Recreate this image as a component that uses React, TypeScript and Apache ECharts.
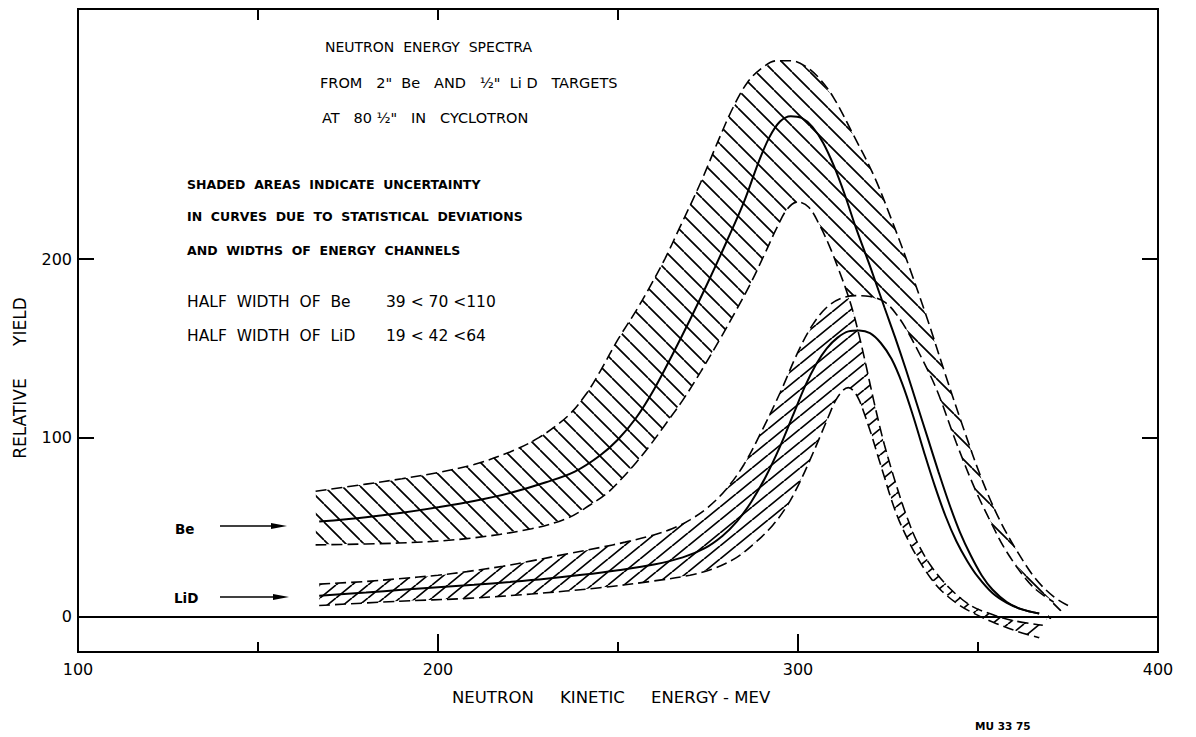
import React, { useEffect, useRef } from 'react';
import * as echarts from 'echarts';

// ---- data (energy in MeV, relative yield) ----
const xTickLabels = [100, 200, 300, 400];
const yTickLabels = [0, 100, 200];
const yTickMarks = [100, 200];
const topTickMarks = [150, 200, 250];

const beCenter: number[][] = [
  [167, 53], [180, 55.5], [190, 58], [200, 61], [210, 64.5], [220, 69], [230, 75], [238, 81],
  [245, 90], [250, 99], [255, 111], [260, 127], [265, 146], [270, 166], [275, 187], [280, 209],
  [285, 232], [289, 254], [292, 268], [295, 277], [298, 280], [301, 279], [304, 274], [307, 265],
  [310, 252], [313, 236], [316, 218], [320, 196], [324, 173], [327, 156], [330, 138], [333, 119],
  [336, 100], [339, 81], [342, 63], [345, 47], [348, 34], [351, 23], [354, 15], [358, 8],
  [362, 4], [367, 1.5],
];
const beUpper: number[][] = [
  [166, 70], [180, 74], [190, 77], [200, 80.5], [210, 85], [220, 92], [228, 100], [236, 112],
  [241, 124], [245, 137], [250, 155], [255, 171], [259, 185], [263, 200], [267, 217], [273, 243],
  [278, 267], [282, 285], [286, 299], [290, 307], [294, 311], [298, 311], [302, 308], [306, 301],
  [310, 290], [315, 271], [321, 247], [326, 222], [331, 195], [336, 166], [341, 135], [346, 105],
  [351, 77], [356, 54], [361, 36], [366, 21], [371, 11], [375, 6],
];
const beLower: number[][] = [
  [166, 40], [189, 41], [208, 43.5], [226, 49], [236, 55], [242, 62], [247, 69], [251, 77],
  [255, 86], [259, 96], [263, 107], [268, 121], [273, 137], [278, 154], [283, 172], [287, 187],
  [291, 204], [294, 217], [297, 228], [300, 232], [303, 229], [306, 219], [309, 206], [311.5, 193],
  [313.5, 182], [315.5, 169], [317, 157], [318.5, 144], [319.8, 132], [321, 121], [322.5, 108], [324, 96],
  [326, 82], [328, 69], [330, 57], [333, 42], [337, 28], [342, 16], [348, 6], [354, 1],
  [360, -2.5], [368, -5],
];
const lidCenter: number[][] = [
  [167, 11.5], [180, 13.3], [190, 14.8], [200, 16.2], [210, 17.6], [220, 19.2], [230, 21], [240, 23.2],
  [250, 25.8], [260, 29], [268, 33], [274, 38], [279, 45], [283, 53], [287, 64], [291, 78],
  [295, 95], [298.5, 112], [302, 129], [305, 141], [308, 150], [311, 156], [314, 159.5], [317, 160],
  [320, 158.5], [323, 153], [326, 144], [329, 130], [332, 112], [335, 92], [338, 73], [341, 56],
  [344, 42], [347, 31], [350, 22], [354, 13], [358, 7.5], [362, 4], [367, 1.5],
];
const lidUpper: number[][] = [
  [167, 18], [180, 19.5], [189, 21], [200, 23], [208, 25], [218, 28], [226, 31], [236, 35],
  [245, 38.5], [252, 41.5], [259, 45], [265, 49], [270, 54], [275, 61], [280, 71], [285, 85],
  [290, 104], [295, 125], [300, 148], [304, 163], [308, 173], [312, 178], [316, 179.5], [320, 179],
  [324, 176], [327, 170], [330, 161], [334, 146], [338.5, 127], [344, 97], [349, 72], [353, 55],
  [358, 36], [365, 17], [371, 8],
];
const lidLower: number[][] = [
  [167, 6], [189, 8.4], [208, 10], [226, 12.5], [245, 16], [259, 19.5], [270, 23], [277, 27],
  [283, 33], [288, 41], [293, 51], [297, 62], [300, 73], [303, 86], [306, 100], [308.5, 112],
  [310.5, 121], [312.5, 126.5], [314, 128], [315.5, 126], [317, 121], [318.5, 113], [320.5, 101], [322, 91],
  [324, 78], [326, 65], [328, 54], [331, 41], [334, 30], [337, 21], [340, 14], [345, 6],
  [350, 0.5], [355, -4], [361, -8.5], [367, -12],
];

const FONT = '"DejaVu Sans", sans-serif';

const XorMask = echarts.graphic.extendShape({
  shape: { rings: [] as number[][][] },
  buildPath(ctx: any, shape: any) {
    for (const ring of shape.rings) {
      if (!ring.length) continue;
      ctx.moveTo(ring[0][0], ring[0][1]);
      for (let i = 1; i < ring.length; i++) ctx.lineTo(ring[i][0], ring[i][1]);
      ctx.closePath();
    }
  },
});
echarts.graphic.registerShape('xorMask', XorMask);

function hatch(w: number, h: number, back: boolean, lw: number) {
  const c = document.createElement('canvas');
  c.width = w;
  c.height = h;
  const ctx = c.getContext('2d')!;
  ctx.strokeStyle = '#000';
  ctx.lineWidth = lw;
  ctx.beginPath();
  for (let i = -1; i <= 1; i++) {
    if (back) {
      ctx.moveTo(i * w, 0);
      ctx.lineTo((i + 1) * w, h);
    } else {
      ctx.moveTo(i * w, h);
      ctx.lineTo((i + 1) * w, 0);
    }
  }
  ctx.stroke();
  return { image: c, repeat: 'repeat', imageWidth: w, imageHeight: h };
}

export default function App() {
  const ref = useRef<HTMLDivElement>(null);
  useEffect(() => {
    if (!ref.current) return;
    const chart = echarts.init(ref.current, null, { renderer: 'svg' });
    const bePattern = hatch(18, 18, true, 1.7);
    const lidPattern = hatch(16, 13, false, 1.7);

    const lineSeries = (data: number[][], dashed: boolean, extra: any = {}) => ({
      type: 'line',
      data,
      symbol: 'none',
      showSymbol: false,
      smooth: 0.35,
      silent: true,
      z: 3,
      lineStyle: { color: '#000', width: dashed ? 1.6 : 2, type: dashed ? [11, 5] : 'solid' },
      ...extra,
    });

    const tickStyle = { color: '#000', width: 2 };
    const txt = (text: string, x: number, y: number, size: number, bold = false, extra: any = {}, rotation = 0) => ({
      type: 'text',
      x,
      y,
      rotation,
      z: 100,
      silent: true,
      style: {
        text,
        fill: '#000',
        fontSize: size,
        fontFamily: FONT,
        fontWeight: bold ? 'bold' : 'normal',
        align: 'left',
        verticalAlign: 'middle',
        ...extra,
      },
    });

    chart.setOption({
      animation: false,
      backgroundColor: '#fff',
      grid: { left: 78, right: 38, top: 9, bottom: 85, show: true, borderColor: '#000', borderWidth: 2 },
      xAxis: [
        {
          type: 'value', position: 'bottom', min: 100, max: 400, interval: 100, z: 5,
          axisLine: { show: false, onZero: false },
          axisTick: { show: true, inside: true, length: 18, lineStyle: tickStyle },
          minorTick: { show: true, splitNumber: 2, length: 10, lineStyle: tickStyle },
          axisLabel: { color: '#000', fontSize: 16, fontFamily: FONT, margin: 9, customValues: xTickLabels },
          splitLine: { show: false },
          minorSplitLine: { show: false },
        },
        {
          type: 'value', position: 'top', min: 100, max: 400, z: 5,
          axisLine: { show: false, onZero: false },
          axisTick: { show: true, inside: true, length: 11, lineStyle: tickStyle, customValues: topTickMarks },
          axisLabel: { show: false },
          splitLine: { show: false },
        },
      ],
      yAxis: [
        {
          type: 'value', position: 'left', min: -20, max: 340, z: 5,
          axisLine: { show: false, onZero: false },
          axisTick: { show: true, inside: true, length: 16, lineStyle: tickStyle, customValues: yTickMarks },
          axisLabel: { color: '#000', fontSize: 16, fontFamily: FONT, margin: 6, customValues: yTickLabels },
          splitLine: { show: false },
        },
        {
          type: 'value', position: 'right', min: -20, max: 340, z: 5,
          axisLine: { show: false, onZero: false },
          axisTick: { show: true, inside: true, length: 16, lineStyle: tickStyle, customValues: yTickMarks },
          axisLabel: { show: false },
          splitLine: { show: false },
        },
      ],
      series: [
        {
          type: 'custom',
          coordinateSystem: 'cartesian2d',
          silent: true,
          z: 1,
          data: [[200, 0]],
          renderItem: (_params: any, api: any) => {
            const pts = (arr: number[][]) => arr.map((p) => api.coord(p));
            const bePoly = [...pts(beUpper), ...pts(beLower).reverse()];
            const lidPoly = [...pts(lidUpper), ...pts(lidLower).reverse()];
            let x0 = Infinity, y0 = Infinity, x1 = -Infinity, y1 = -Infinity;
            for (const p of [...bePoly, ...lidPoly]) {
              x0 = Math.min(x0, p[0]); x1 = Math.max(x1, p[0]);
              y0 = Math.min(y0, p[1]); y1 = Math.max(y1, p[1]);
            }
            x0 -= 3; y0 -= 3; x1 += 3; y1 += 3;
            const rect = [[x0, y0], [x0, y1], [x1, y1], [x1, y0]];
            return {
              type: 'group',
              children: [
                { type: 'polygon', shape: { points: lidPoly }, style: { fill: lidPattern, stroke: null } },
                { type: 'polygon', shape: { points: bePoly }, style: { fill: bePattern, stroke: null } },
                { type: 'xorMask', shape: { rings: [rect, bePoly, lidPoly] }, style: { fill: '#fff', stroke: null } },
              ],
            };
          },
        },
        lineSeries(beUpper, true),
        lineSeries(beLower, true),
        lineSeries(lidUpper, true),
        lineSeries(lidLower, true),
        lineSeries(lidCenter, false),
        lineSeries(beCenter, false, {
          markLine: {
            silent: true,
            symbol: ['none', 'none'],
            label: { show: false },
            lineStyle: { color: '#000', width: 2, type: 'solid' },
            data: [{ yAxis: 0 }],
          },
        }),
      ],
      graphic: [
        txt('NEUTRON  ENERGY  SPECTRA', 325, 47, 14),
        txt('FROM   2"  Be   AND   ½"  Li D   TARGETS', 320, 83, 14.5),
        txt('AT   80 ½"   IN   CYCLOTRON', 322, 118, 14.5),
        txt('SHADED  AREAS  INDICATE  UNCERTAINTY', 187, 184, 12.5, true),
        txt('IN  CURVES  DUE  TO  STATISTICAL  DEVIATIONS', 187, 216, 12.5, true),
        txt('AND  WIDTHS  OF  ENERGY  CHANNELS', 187, 250, 12.5, true),
        txt('HALF  WIDTH  OF  Be', 187, 302, 15.5),
        txt('39 < 70 <110', 386, 302, 15.5),
        txt('HALF  WIDTH  OF  LiD', 187, 336, 15.5),
        txt('19 < 42 <64', 386, 336, 15.5),
        txt('Be', 175, 529, 13.5, true),
        txt('LiD', 174, 598, 13.5, true),
        txt('NEUTRON     KINETIC     ENERGY - MEV', 452, 697, 16.5),
        txt('MU 33 75', 975, 726, 10.5, true),
        txt('RELATIVE      YIELD', 20, 378, 17, false, { align: 'center' }, Math.PI / 2),
        { type: 'line', z: 100, silent: true, shape: { x1: 220, y1: 526, x2: 280, y2: 526 }, style: { stroke: '#000', lineWidth: 1.6 } },
        { type: 'polygon', z: 100, silent: true, shape: { points: [[271, 523], [287, 526], [271, 529]] }, style: { fill: '#000' } },
        { type: 'line', z: 100, silent: true, shape: { x1: 220, y1: 597, x2: 282, y2: 597 }, style: { stroke: '#000', lineWidth: 1.6 } },
        { type: 'polygon', z: 100, silent: true, shape: { points: [[273, 594], [289, 597], [273, 600]] }, style: { fill: '#000' } },
      ],
    });
    return () => chart.dispose();
  }, []);
  return (
    <div
      ref={ref}
      style={{ position: 'fixed', left: 0, top: 0, width: 1196, height: 737, background: '#fff' }}
    />
  );
}
